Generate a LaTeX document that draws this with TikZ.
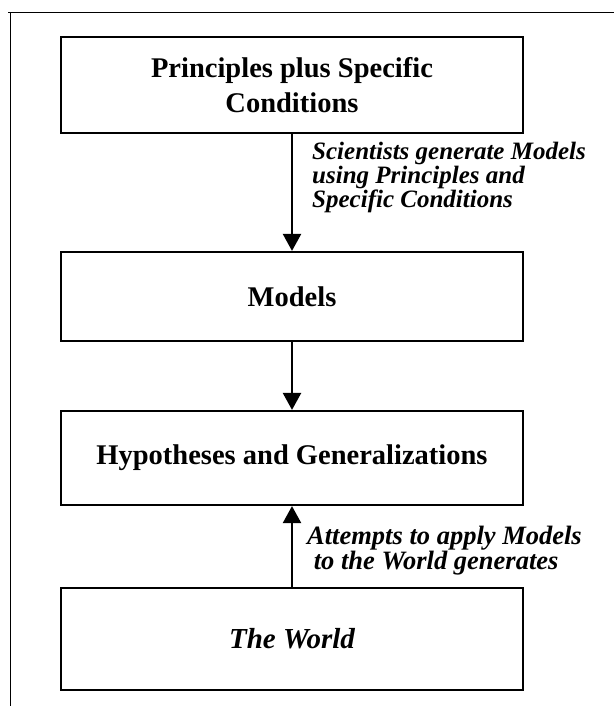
\documentclass[tikz,border=0pt]{standalone}
\usepackage{fontspec}
\setmainfont{Liberation Serif}
\usetikzlibrary{arrows.meta}
\tikzset{
  box/.style={draw, line width=2.2pt, minimum width=462pt, inner sep=0pt, align=center, font=\fontsize{28.5}{35}\selectfont\bfseries},
  conn/.style={line width=2.4pt, -{Triangle[length=17pt,width=18pt]}},
  lab/.style={anchor=north west, align=left, inner sep=0pt, font=\fontsize{25}{22.5}\selectfont\bfseries\itshape},
  frame/.style={line width=0.9pt}
}
\begin{document}
\begin{tikzpicture}[x=1pt,y=-1pt]
\useasboundingbox (0,0) rectangle (614,706);
\draw[frame] (8,12.5) -- (614,12.5);
\draw[frame] (10,12.5) -- (10,706);
\node[box, minimum height=96pt] (p) at (292,85) {Principles plus Specific\\Conditions};
\node[box, minimum height=89pt] (m) at (292,296.5) {Models};
\node[box, minimum height=94pt] (h) at (292,458) {Hypotheses and Generalizations};
\node[box, minimum height=102pt, font=\fontsize{29}{35}\selectfont\bfseries\itshape] (w) at (292,639) {The World};
\draw[conn] (p.south) -- (m.north);
\draw[conn] (m.south) -- (h.north);
\draw[conn] (w.north) -- (h.south);
\node[lab] (l1) at (312,142) {Scientists generate Models\\using Principles and\\Specific Conditions};
\node[lab, font=\fontsize{26.5}{22.5}\selectfont\bfseries\itshape] (l2) at (307,526) {Attempts to apply Models\\\ to the World generates};
\end{tikzpicture}
\end{document}
